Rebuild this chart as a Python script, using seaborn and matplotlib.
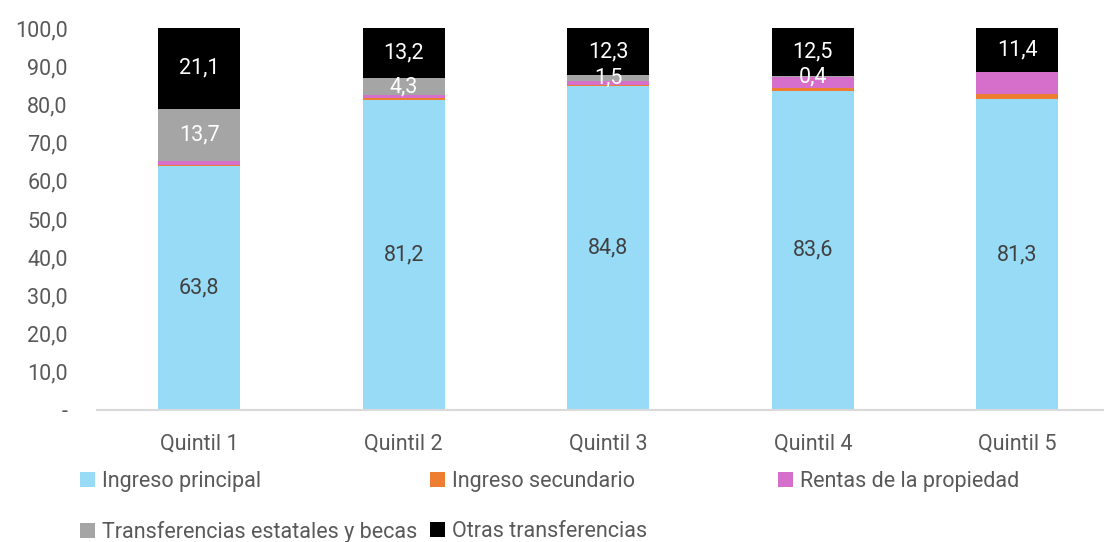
import numpy as np
import pandas as pd
import matplotlib
matplotlib.use("Agg")
import matplotlib.pyplot as plt
import seaborn as sns
from matplotlib.patches import Patch

# Datos
quintiles = ["Quintil 1", "Quintil 2", "Quintil 3", "Quintil 4", "Quintil 5"]
ingreso_principal = [63.8, 81.2, 84.8, 83.6, 81.3]
ingreso_secundario = [0.4, 0.5, 0.4, 0.6, 1.4]
rentas_propiedad = [1.0, 0.8, 1.0, 2.9, 5.9]
transferencias_estatales = [13.7, 4.3, 1.5, 0.4, 0.0]
otras_transferencias = [21.1, 13.2, 12.3, 12.5, 11.4]

series = ["Ingreso principal", "Ingreso secundario", "Rentas de la propiedad",
          "Transferencias estatales y becas", "Otras transferencias"]
valores = [ingreso_principal, ingreso_secundario, rentas_propiedad,
           transferencias_estatales, otras_transferencias]
colores = ["#97DBF7", "#ED7D31", "#D66FCB", "#A5A5A5", "#000000"]
# etiquetas visibles: (serie, color del texto)
etiquetas = {0: "#404040", 3: "white", 4: "white"}

sns.set_style("white")
plt.rcParams['font.family'] = ['Roboto', 'DejaVu Sans']
gris_texto = "#595959"
fs = 15.5

fig = plt.figure(figsize=(11.04, 5.42), dpi=100)
ax = fig.add_axes([97 / 1104, 1 - 410 / 542, 1006 / 1104, 382 / 542])

df = pd.DataFrame({s: v for s, v in zip(series, valores)}, index=quintiles)
acumulado = df.cumsum(axis=1)

# Barras apiladas: se dibuja de la acumulada mayor a la menor
for i in range(len(series) - 1, -1, -1):
    d = pd.DataFrame({"Quintil": quintiles, "valor": acumulado.iloc[:, i].values})
    sns.barplot(data=d, x="Quintil", y="valor", color=colores[i], width=0.4,
                saturation=1, ax=ax, errorbar=None, linewidth=0, edgecolor="none")

# Etiquetas de datos
for i, col in etiquetas.items():
    for j in range(len(quintiles)):
        v = valores[i][j]
        if v <= 0:
            continue
        base = acumulado.iloc[j, i] - v
        ax.text(j, base + v / 2, f"{v:.1f}".replace(".", ","), ha="center", va="center",
                fontsize=fs, color=col)

ax.set_xlim(-0.5, -0.5 + 1006 / 204.5)
ax.set_ylim(0, 100)
ax.set_yticks(np.arange(0, 101, 10))
ax.set_yticklabels(["-"] + [f"{t:.1f}".replace(".", ",") for t in np.arange(10, 101, 10)])
ax.set_xlabel("")
ax.set_ylabel("")
ax.tick_params(axis="y", length=0, pad=21, labelsize=fs, labelcolor=gris_texto)
ax.tick_params(axis="x", length=0, pad=17, labelsize=fs, labelcolor=gris_texto)
for s in ["top", "right", "left"]:
    ax.spines[s].set_visible(False)
ax.spines["bottom"].set_color("#D9D9D9")
ax.spines["bottom"].set_linewidth(1.5)

# Leyenda en tres columnas de igual ancho
handles = [Patch(facecolor=c, edgecolor="none") for c in colores]
columnas = [[0, 3], [1, 4], [2]]
xs = [80 / 1104, 430 / 1104, 778 / 1104]
for idx, x in zip(columnas, xs):
    leg = fig.legend([handles[k] for k in idx], [series[k] for k in idx],
                     loc="upper left", bbox_to_anchor=(x, 1 - 471 / 542),
                     frameon=False, fontsize=fs, handlelength=0.7, handleheight=0.7,
                     handletextpad=0.3, labelspacing=1.35, borderpad=0, borderaxespad=0)
    for t in leg.get_texts():
        t.set_color(gris_texto)

fig.savefig("out.png", dpi=100)
